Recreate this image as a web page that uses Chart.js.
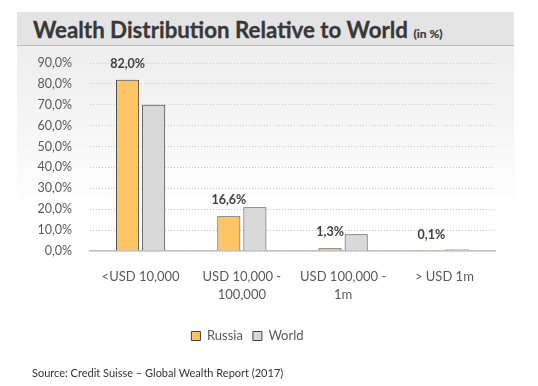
<!DOCTYPE html>
<html>
<head>
<meta charset="utf-8">
<script src="https://cdn.jsdelivr.net/npm/chart.js"></script>
<style>
  body { margin: 0; background: #fff; }
  #wrap { position: relative; width: 538px; height: 386px; overflow: hidden; font-family: Lato, sans-serif; }
  #panel {
    position: absolute; left: 17px; top: 12px; width: 497px; height: 230px;
    background: linear-gradient(to bottom, #ebebeb 0px, #f3f3f3 90px, #ffffff 200px);
  }
  #head {
    position: absolute; left: 17px; top: 12px; width: 497px; height: 33px;
    background: #e4e4e4; border-bottom: 1px solid #bdbdbd;
  }
  #title {
    position: absolute; left: 33px; top: 16px; font-weight: bold; font-size: 22.3px; color: #383838; white-space: nowrap;
    -webkit-text-stroke: 0.3px #383838;
  }
  #title small { font-size: 12px; -webkit-text-stroke: 0.2px #383838; }
  #source { position: absolute; left: 32px; top: 366px; font-size: 11px; color: #333; white-space: nowrap; }
  canvas { position: absolute; left: 0; top: 0; }
</style>
</head>
<body>
<div id="wrap">
  <div id="panel"></div>
  <div id="head"></div>
  <div id="title">Wealth Distribution Relative to World <small>(in %)</small></div>
  <canvas id="chart" width="538" height="386"></canvas>
  <div id="source">Source: Credit Suisse – Global Wealth Report (2017)</div>
</div>
<script>
// data
const categories = [["<USD 10,000"], ["USD 10,000 -", "100,000"], ["USD 100,000 -", "1m"], ["> USD 1m"]];
const russia = [82.0, 16.6, 1.3, 0.1];
const world = [70.0, 21.0, 8.0, 0.7];
const yTicks = [0, 10, 20, 30, 40, 50, 60, 70, 80, 90];

const pct = v => v.toFixed(1).replace(".", ",") + "%";

// value labels above the Russia bars
const barLabels = {
  id: "barLabels",
  afterDatasetsDraw(chart) {
    const ctx = chart.ctx;
    const meta = chart.getDatasetMeta(0);
    ctx.save();
    ctx.font = "bold 12.5px Lato";
    ctx.fillStyle = "#404040";
    ctx.textAlign = "center";
    ctx.textBaseline = "middle";
    meta.data.forEach((bar, i) => {
      ctx.fillText(pct(russia[i]), bar.x, bar.y - 16);
    });
    ctx.restore();
  }
};

new Chart(document.getElementById("chart"), {
  type: "bar",
  data: {
    labels: categories,
    datasets: [
      { label: "Russia", data: russia, backgroundColor: "#ffc466", borderColor: "#404040", borderWidth: 1 },
      { label: "World", data: world, backgroundColor: "#d9d9d9", borderColor: "#404040", borderWidth: 1 }
    ]
  },
  options: {
    responsive: false,
    animation: false,
    categoryPercentage: 0.515,
    barPercentage: 0.885,
    layout: { padding: { left: 0, right: 43, top: 63, bottom: 33.5 } },
    scales: {
      x: {
        grid: { display: false },
        border: { display: true, color: "#bfbfbf", width: 1.5 },
        ticks: { color: "#595959", font: { family: "Lato", size: 13, lineHeight: 1.45 }, padding: 8, maxRotation: 0, autoSkip: false },
        afterFit(scale) { scale.height = 68.5; }
      },
      y: {
        min: 0,
        max: 90,
        afterBuildTicks(scale) { scale.ticks = yTicks.map(v => ({ value: v })); },
        grid: { color: "#c8c8c8", drawTicks: false },
        border: { display: false, dash: [1, 2] },
        ticks: { color: "#595959", font: { family: "Lato", size: 12.5 }, padding: 18, callback: v => pct(v) },
        afterFit(scale) { scale.width = 90; }
      }
    },
    plugins: {
      legend: {
        position: "bottom",
        labels: { boxWidth: 9, boxHeight: 9, padding: 10, color: "#595959", font: { family: "Lato", size: 13 } }
      },
      tooltip: { enabled: false }
    }
  },
  plugins: [barLabels]
});
</script>
</body>
</html>
